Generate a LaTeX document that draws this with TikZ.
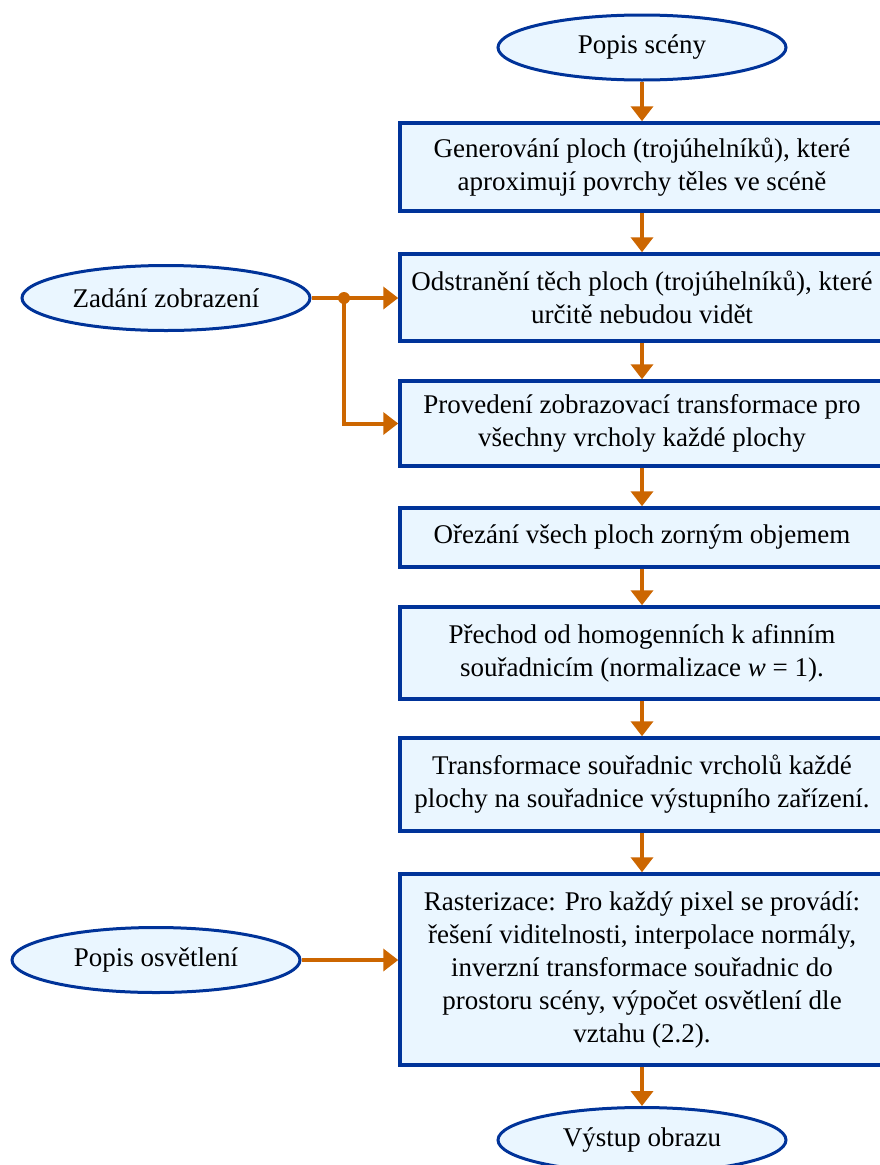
\documentclass[tikz,border=0pt]{standalone}
\usepackage{fontspec}
\setmainfont{Liberation Serif}
\usetikzlibrary{shapes.geometric, arrows.meta, positioning}
\definecolor{boxblue}{RGB}{0,51,153}
\definecolor{boxfill}{RGB}{234,246,255}
\definecolor{flowor}{RGB}{204,102,0}
\tikzset{
  stepbox/.style={rectangle, draw=boxblue, fill=boxfill, line width=3.5pt, align=center,
    minimum width=484pt, inner xsep=4pt, inner ysep=0pt, font=\fontsize{27pt}{33pt}\selectfont},
  terminal/.style={ellipse, draw=boxblue, fill=boxfill, line width=3pt, minimum width=288pt,
    minimum height=65pt, inner sep=0pt, font=\fontsize{27pt}{33pt}\selectfont},
  flow/.style={-{Triangle[length=15pt,width=22pt]}, draw=flowor, line width=4pt}
}

\begin{document}
\begin{tikzpicture}[x=1pt, y=-1pt]
  \useasboundingbox (0,0) rectangle (880,1165);
  \clip (0,0) rectangle (880,1165);

  % Inputs and output
  \node[terminal] (scene)  at (642,47.5) {Popis scény};
  \node[terminal] (view)   at (166,298)  {Zadání zobrazení};
  \node[terminal] (light)  at (156,960)  {Popis osvětlení};
  \node[terminal] (output) at (642,1140) {Výstup obrazu};

  % Processing steps (absolute layout)
  \node[stepbox, minimum height=88pt]  (gen)    at (642,167)   {Generování ploch (trojúhelníků), které\\aproximují povrchy těles ve scéně};
  \node[stepbox, minimum height=87pt]  (remove) at (642,297.5) {Odstranění těch ploch (trojúhelníků), které\\určitě nebudou vidět};
  \node[stepbox, minimum height=85pt]  (transf) at (642,423.5) {Provedení zobrazovací transformace pro\\všechny vrcholy každé plochy};
  \node[stepbox, minimum height=59pt]  (clipv)  at (642,537.5) {Ořezání všech ploch zorným objemem};
  \node[stepbox, minimum height=92pt]  (affine) at (642,653)   {Přechod od homogenních k afinním\\souřadnicím (normalizace \textit{w} = 1).};
  \node[stepbox, minimum height=93pt]  (device) at (642,784.5) {Transformace souřadnic vrcholů každé\\plochy na souřadnice výstupního zařízení.};
  \node[stepbox, minimum height=191pt] (raster) at (642,969.5) {Rasterizace: Pro každý pixel se provádí:\\řešení viditelnosti, interpolace normály,\\inverzní transformace souřadnic do\\prostoru scény, výpočet osvětlení dle\\vztahu (2.2).};

  % Main flow
  \draw[flow] (scene) -- (gen);
  \draw[flow] (gen) -- (remove);
  \draw[flow] (remove) -- (transf);
  \draw[flow] (transf) -- (clipv);
  \draw[flow] (clipv) -- (affine);
  \draw[flow] (affine) -- (device);
  \draw[flow] (device) -- (raster);
  \draw[flow] (raster) -- (output);

  % Side inputs
  \coordinate (split) at (344,298);
  \draw[flow] (view.east) -- (view.east -| remove.west);
  \draw[flow] (split) |- (transf.west);
  \fill[flowor] (split) circle (6pt);
  \draw[flow] (light.east) -- (light.east -| raster.west);
\end{tikzpicture}
\end{document}
